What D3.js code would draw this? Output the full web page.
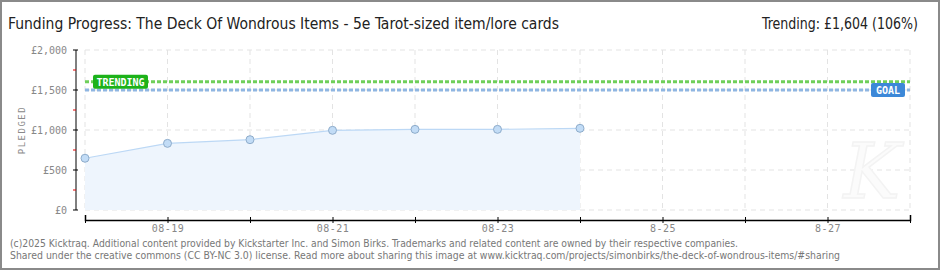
<!DOCTYPE html>
<html>
<head>
<meta charset="utf-8">
<script src="https://cdn.jsdelivr.net/npm/d3@7"></script>
<style>
  body { margin: 0; background: #fff; }
  svg { display: block; }
</style>
</head>
<body>
<script>
// chart data
var dates = ["2025-08-18", "2025-08-19", "2025-08-20", "2025-08-21", "2025-08-22", "2025-08-23", "2025-08-24"];
var pledged = [647, 833, 879, 996, 1008, 1008, 1021];
var axisDates = ["2025-08-18", "2025-08-28"];
var yTicks = [0, 500, 1000, 1500, 2000];
var goal = 1500;
var trending = 1604;
var titleText = "Funding Progress: The Deck Of Wondrous Items - 5e Tarot-sized item/lore cards";
var trendText = "Trending:  £1,604 (106%)";
var footer = [
    "(c)2025 Kicktraq. Additional content provided by Kickstarter Inc. and Simon Birks. Trademarks and related content are owned by their respective companies.",
    "Shared under the creative commons (CC BY-NC 3.0) license. Read more about sharing this image at www.kicktraq.com/projects/simonbirks/the-deck-of-wondrous-items/#sharing"
];

var W = 940, H = 270;
var parse = d3.timeParse("%Y-%m-%d");

var svg = d3.select("body").append("svg")
    .attr("width", W).attr("height", H);

// frame
svg.append("rect").attr("x", 1).attr("y", 1).attr("width", W - 2).attr("height", H - 2)
    .attr("fill", "#fff").attr("stroke", "#8a8a8a").attr("stroke-width", 2);

var x = d3.scaleTime()
    .domain(axisDates.map(parse))
    .range([85, 910]);
var y = d3.scaleLinear()
    .domain([0, 2000])
    .range([210, 50]);

var days = d3.timeDay.range(parse(axisDates[0]), d3.timeDay.offset(parse(axisDates[1]), 1));
var pixelFont = "'DejaVu Sans Mono', monospace";

// grid
var grid = svg.append("g").attr("stroke", "#e3e3e3").attr("stroke-dasharray", "5,4");
grid.selectAll("line.v").data(days).enter().append("line")
    .attr("x1", function (d) { return x(d); }).attr("x2", function (d) { return x(d); })
    .attr("y1", y(2000)).attr("y2", y(0));
grid.selectAll("line.h").data(yTicks).enter().append("line")
    .attr("x1", x.range()[0]).attr("x2", x.range()[1])
    .attr("y1", function (d) { return y(d); }).attr("y2", function (d) { return y(d); });

// watermark
svg.append("text").attr("x", 872).attr("y", 198)
    .attr("text-anchor", "middle")
    .attr("font-family", "'DejaVu Serif', serif").attr("font-style", "italic")
    .attr("font-size", 76).attr("fill", "#fbfbfb")
    .attr("stroke", "#f3f3f3").attr("stroke-width", 1.5)
    .text("K");

// area + line
var pts = dates.map(function (d, i) { return { date: parse(d), value: pledged[i] }; });
svg.append("path").datum(pts)
    .attr("fill", "#eef5fd")
    .attr("d", d3.area().x(function (d) { return x(d.date); }).y0(y(0)).y1(function (d) { return y(d.value); }));
svg.append("path").datum(pts)
    .attr("fill", "none").attr("stroke", "#bcd8f5").attr("stroke-width", 1.2)
    .attr("d", d3.line().x(function (d) { return x(d.date); }).y(function (d) { return y(d.value); }));

// goal / trending lines
svg.append("line").attr("x1", x.range()[0]).attr("x2", x.range()[1])
    .attr("y1", y(trending)).attr("y2", y(trending))
    .attr("stroke", "#6fcf5a").attr("stroke-width", 3).attr("stroke-dasharray", "4,2");
svg.append("line").attr("x1", x.range()[0]).attr("x2", x.range()[1])
    .attr("y1", y(goal)).attr("y2", y(goal))
    .attr("stroke", "#8fb6e2").attr("stroke-width", 3).attr("stroke-dasharray", "4,2");

// points
svg.selectAll("circle.pt").data(pts).enter().append("circle")
    .attr("cx", function (d) { return x(d.date); })
    .attr("cy", function (d) { return y(d.value); })
    .attr("r", 4)
    .attr("fill", "#c2dcf6").attr("stroke", "#8eaccb").attr("stroke-width", 1);

// labels on lines
function badge(cx, cy, w, color, label) {
    svg.append("rect").attr("x", cx).attr("y", cy - 7).attr("width", w).attr("height", 14)
        .attr("rx", 2).attr("fill", color);
    svg.append("text").attr("x", cx + w / 2).attr("y", cy + 4)
        .attr("text-anchor", "middle").attr("fill", "#fff")
        .attr("font-family", pixelFont).attr("font-size", 10).attr("font-weight", "bold")
        .text(label);
}
badge(93, y(trending), 55, "#1db21a", "TRENDING");
badge(871, y(goal), 34, "#3c88d8", "GOAL");

// y axis
var yAxisX = 76;
svg.append("line").attr("x1", yAxisX).attr("x2", yAxisX).attr("y1", y(2000)).attr("y2", y(0))
    .attr("stroke", "#000");
svg.selectAll("line.ymaj").data(yTicks).enter().append("line")
    .attr("x1", yAxisX - 3).attr("x2", yAxisX + 2)
    .attr("y1", function (d) { return y(d); }).attr("y2", function (d) { return y(d); })
    .attr("stroke", "#000");
svg.selectAll("line.ymin").data(yTicks.slice(1)).enter().append("line")
    .attr("x1", yAxisX - 3).attr("x2", yAxisX)
    .attr("y1", function (d) { return y(d - 250); }).attr("y2", function (d) { return y(d - 250); })
    .attr("stroke", "#e00000");
svg.selectAll("text.ylab").data(yTicks).enter().append("text")
    .attr("x", 67).attr("y", function (d) { return y(d) + 4; })
    .attr("text-anchor", "end").attr("fill", "#888")
    .attr("font-family", pixelFont).attr("font-size", 10)
    .text(function (d) { return "£" + d3.format(",")(d); });
svg.append("text")
    .attr("transform", "translate(25,130) rotate(-90)")
    .attr("text-anchor", "middle").attr("fill", "#888")
    .attr("font-family", pixelFont).attr("font-size", 9).attr("letter-spacing", 1.5)
    .text("PLEDGED");

// x axis
var xAxis = d3.axisBottom(x)
    .tickValues(days)
    .tickSize(-5)
    .tickPadding(7)
    .tickFormat(function (d, i) {
        if (i % 2 === 0) return "";
        return i < 7 ? d3.timeFormat("%m-%d")(d) : d3.timeFormat("%-m-%d")(d);
    });
var gx = svg.append("g").attr("transform", "translate(0,220)").call(xAxis);
gx.select(".domain").attr("stroke", "#000").attr("stroke-width", 1.5);
gx.selectAll(".tick line").attr("stroke", "#000").attr("y2", 3).attr("y1", -3);
gx.selectAll(".tick text").attr("fill", "#888").attr("font-family", pixelFont).attr("font-size", 10)
    .attr("letter-spacing", 0.5).attr("dy", "0.5em");

// title
svg.append("text").attr("x", 8).attr("y", 29)
    .attr("font-family", "'DejaVu Sans Condensed', sans-serif").attr("font-size", 15)
    .attr("fill", "#222")
    .attr("textLength", 551).attr("lengthAdjust", "spacingAndGlyphs")
    .text(titleText);
svg.append("text").attr("x", 918).attr("y", 29)
    .attr("text-anchor", "end")
    .attr("font-family", "'DejaVu Sans Condensed', sans-serif").attr("font-size", 15)
    .attr("fill", "#222")
    .attr("textLength", 156).attr("lengthAdjust", "spacingAndGlyphs")
    .text(trendText);

// footer
svg.selectAll("text.foot").data(footer).enter().append("text")
    .attr("x", 10).attr("y", function (d, i) { return 247 + i * 12; })
    .attr("font-family", "'DejaVu Sans', Verdana, sans-serif").attr("font-size", 10)
    .attr("fill", "#777")
    .attr("textLength", function (d, i) { return i === 0 ? 728 : 830; })
    .attr("lengthAdjust", "spacingAndGlyphs")
    .text(function (d) { return d; });
</script>
</body>
</html>
